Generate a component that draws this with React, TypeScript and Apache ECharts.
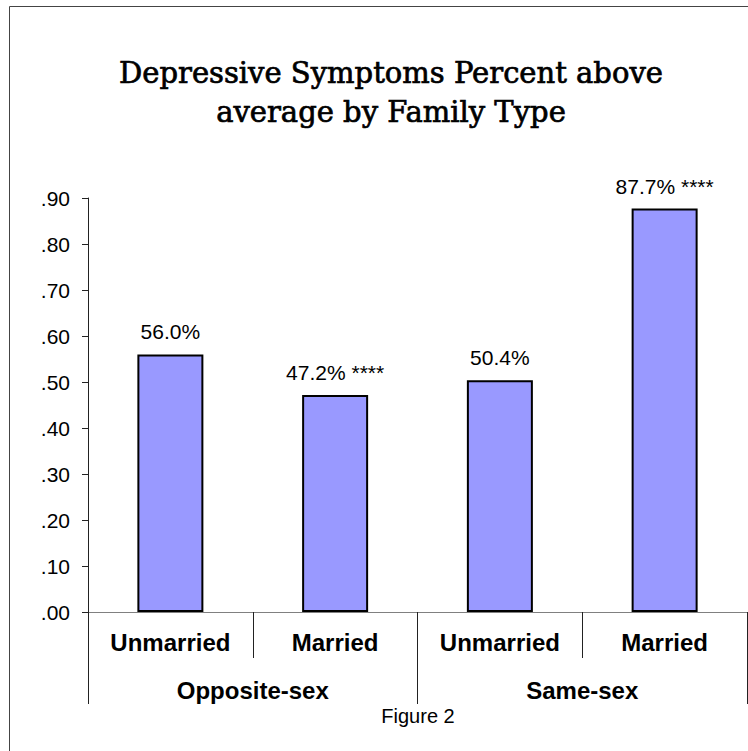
import React, { useEffect, useRef } from "react";
import * as echarts from "echarts";

const categories = ["Unmarried", "Married", "Unmarried", "Married"];
const groups = ["Opposite-sex", "Same-sex"];
const values = [0.56, 0.472, 0.504, 0.877];
const significance = ["", "****", "", "****"];
const yTicks = [0, 0.1, 0.2, 0.3, 0.4, 0.5, 0.6, 0.7, 0.8, 0.9];
const titleLines = ["Depressive Symptoms Percent above", "average by Family Type"];
const caption = "Figure 2";

const SANS = "'Liberation Sans', Arial, sans-serif";
const SERIF = "'DejaVu Serif', serif";

export default function App() {
  const ref = useRef<HTMLDivElement>(null);
  useEffect(() => {
    if (!ref.current) return;
    const chart = echarts.init(ref.current, undefined, { renderer: "svg" });
    chart.setOption({
      animation: false,
      backgroundColor: "#ffffff",
      grid: { left: 88, right: 1, top: 198, bottom: 139, containLabel: false },
      xAxis: [
        {
          type: "category",
          data: categories,
          position: "bottom",
          axisLine: { show: true, lineStyle: { color: "#808080", width: 1 } },
          axisTick: { show: true, interval: 0, length: 46, lineStyle: { color: "#222", width: 1 } },
          axisLabel: {
            interval: 0,
            margin: 30,
            verticalAlign: "middle",
            color: "#000",
            fontFamily: SANS,
            fontWeight: "bold",
            fontSize: 24,
          },
        },
        {
          type: "category",
          data: groups,
          position: "bottom",
          axisLine: { show: false },
          axisTick: { show: true, interval: 0, length: 92, lineStyle: { color: "#222", width: 1 } },
          axisLabel: {
            interval: 0,
            margin: 78,
            verticalAlign: "middle",
            color: "#000",
            fontFamily: SANS,
            fontWeight: "bold",
            fontSize: 24,
          },
        },
      ],
      yAxis: {
        type: "value",
        min: yTicks[0],
        max: yTicks[yTicks.length - 1],
        interval: 0.1,
        splitLine: { show: false },
        axisLine: { show: true, lineStyle: { color: "#222", width: 1 } },
        axisTick: { show: true, length: 6, lineStyle: { color: "#222" } },
        axisLabel: {
          margin: 18,
          color: "#000",
          fontFamily: SANS,
          fontSize: 21,
          formatter: (v: number) => v.toFixed(2).replace(/^0/, ""),
        },
      },
      series: [
        {
          type: "bar",
          xAxisIndex: 0,
          data: values,
          barWidth: 66,
          itemStyle: { color: "#9999FF", borderColor: "#000", borderWidth: 2 },
          label: {
            show: true,
            position: "top",
            distance: 12,
            color: "#000",
            fontFamily: SANS,
            fontSize: 21,
            formatter: (p: any) => {
              const s = significance[p.dataIndex];
              return (p.value * 100).toFixed(1) + "%" + (s ? " " + s : "");
            },
          },
        },
      ],
      graphic: [
        {
          type: "rect",
          shape: { x: 9.5, y: 6.5, width: 900, height: 900 },
          style: { fill: "none", stroke: "#444", lineWidth: 1 },
          silent: true,
        },
        {
          type: "text",
          x: 391,
          y: 73,
          style: {
            text: titleLines[0],
            fontFamily: SERIF,
            fontSize: 29,
            fill: "#000",
            stroke: "#000",
            lineWidth: 0.7,
            textAlign: "center",
            textVerticalAlign: "middle",
          },
        },
        {
          type: "text",
          x: 391,
          y: 112,
          style: {
            text: titleLines[1],
            fontFamily: SERIF,
            fontSize: 29,
            fill: "#000",
            stroke: "#000",
            lineWidth: 0.7,
            textAlign: "center",
            textVerticalAlign: "middle",
          },
        },
        {
          type: "text",
          x: 418,
          y: 716,
          style: {
            text: caption,
            fontFamily: SANS,
            fontSize: 20,
            fill: "#000",
            textAlign: "center",
            textVerticalAlign: "middle",
          },
        },
      ],
    });
    return () => chart.dispose();
  }, []);
  return (
    <div
      ref={ref}
      style={{ position: "absolute", left: 0, top: 0, width: 748, height: 751 }}
    />
  );
}
